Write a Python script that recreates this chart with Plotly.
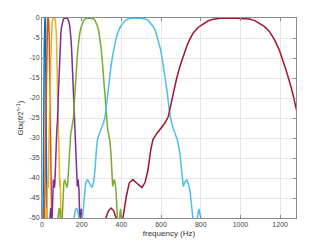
import numpy as np
import plotly.graph_objects as go

# Response profile read from the 960 Hz (red) band, Hz and dB
profile_hz = [250, 300, 322, 335, 348, 361, 373, 390, 408, 425, 440, 458, 478, 504, 520, 534,
              548, 559, 580, 600, 620, 636, 648, 661, 678, 695, 712, 729, 745, 762, 788, 813,
              838, 863, 900, 960, 1010, 1044, 1070, 1095, 1120, 1145, 1170, 1195, 1212, 1229,
              1246, 1263, 1280, 1300, 1322, 1345, 1365, 1390, 1406, 1424, 1440, 1458, 1475,
              1491, 1508, 1524, 1545, 1565, 1582, 1600, 1640]
profile_db = [-60, -56, -50, -48.2, -47.5, -48.2, -50, -56, -50, -44.5, -41.2, -40.4, -41.3, -42.4,
              -41, -38, -33, -30.4, -28.8, -27.6, -26.2, -24.7, -21.8, -18.75, -15.2, -12.1, -9.4,
              -7.1, -5.3, -3.75, -2.3, -1.4, -0.7, -0.3, -0.05, 0, -0.08, -0.25, -0.6, -1.25,
              -2.1, -3.3, -5.3, -7.9, -10.2, -12.9, -15.7, -18.75, -22.5, -25.5, -27.6, -29.2,
              -30.5, -33.75, -37.9, -42.1, -41, -40.4, -41.5, -43, -47, -50, -56, -50, -47.7,
              -50, -60]
profile_center = 960

band_centers_hz = [15, 30, 60, 120, 240, 480, 960]
band_colors = ["#0072BD", "#D95319", "#EDB120", "#7E2F8E", "#77AC30", "#4DBEEE", "#A2142F"]

x_ticks = [0, 200, 400, 600, 800, 1000, 1200]
y_ticks = [0, -5, -10, -15, -20, -25, -30, -35, -40, -45, -50]

fig = go.Figure()
for fc, col in zip(band_centers_hz, band_colors):
    xs = np.array(profile_hz, dtype=float) * fc / profile_center
    fig.add_trace(go.Scatter(x=xs, y=profile_db, mode="lines",
                             line=dict(color=col, width=1.5), showlegend=False,
                             hoverinfo="skip"))

axis_common = dict(showgrid=True, gridcolor="#E6E6E6", gridwidth=1, zeroline=False,
                   showline=True, linecolor="#8C8C8C", linewidth=1, mirror="ticks",
                   ticks="inside", ticklen=3, tickcolor="#8C8C8C", automargin=False,
                   tickfont=dict(size=7, color="#444444", family="Liberation Sans"))

fig.update_xaxes(range=[0, 1280], tickvals=x_ticks, ticktext=[str(v) for v in x_ticks],
                 title=dict(text="frequency (Hz)", font=dict(size=8, color="#333333",
                                                            family="Liberation Sans"),
                            standoff=2),
                 **axis_common)
fig.update_yaxes(range=[-50, 0], tickvals=y_ticks,
                 ticktext=[str(v) if v == 0 else "-" + str(-v) for v in y_ticks],
                 title=dict(text="Gtx(f/2<sup>n-1</sup>)", font=dict(size=8, color="#333333",
                                                                   family="Liberation Sans"),
                            standoff=4),
                 **axis_common)

fig.update_layout(width=327, height=245, margin=dict(l=42, r=31, t=18, b=27),
                  paper_bgcolor="white", plot_bgcolor="white")
fig.write_html("out.html", config={"displayModeBar": False},
               post_script="document.body.style.margin='0';document.body.style.overflow='hidden';")
